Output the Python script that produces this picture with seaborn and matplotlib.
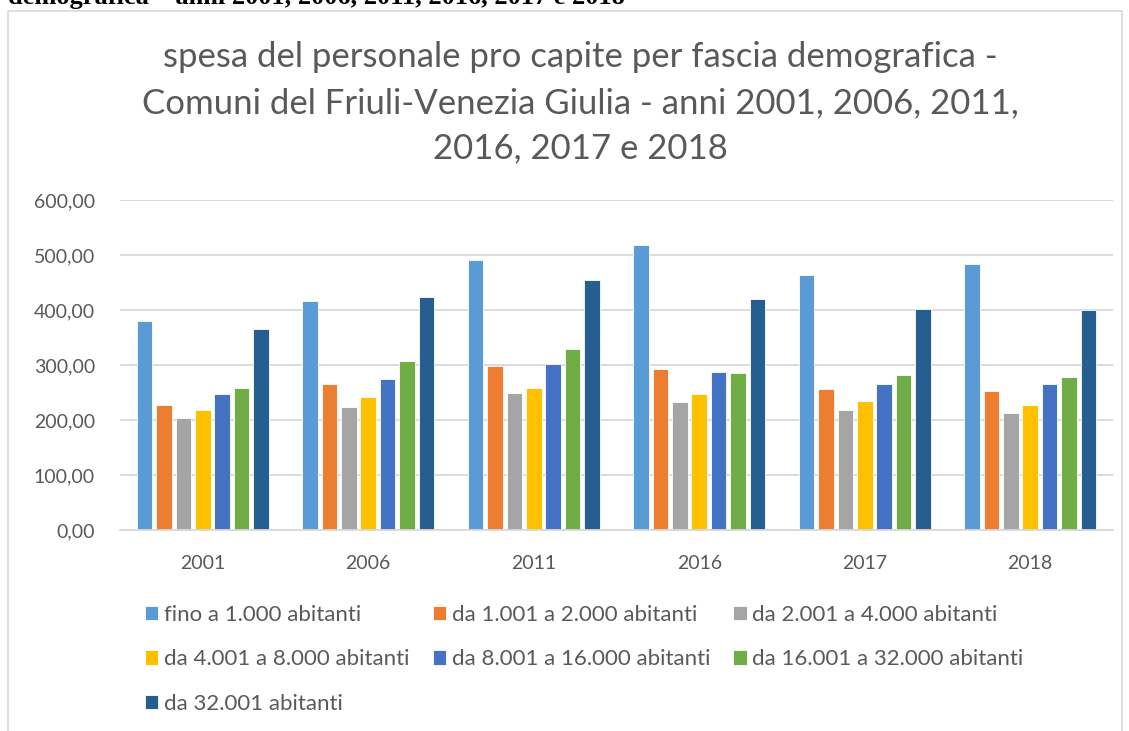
import pandas as pd
import matplotlib.pyplot as plt
import seaborn as sns
from matplotlib.patches import Rectangle
from matplotlib.ticker import FuncFormatter

anni = ["2001", "2006", "2011", "2016", "2017", "2018"]
fasce = [
    "fino a 1.000 abitanti",
    "da 1.001 a 2.000 abitanti",
    "da 2.001 a 4.000 abitanti",
    "da 4.001 a 8.000 abitanti",
    "da 8.001 a 16.000 abitanti",
    "da 16.001 a 32.000 abitanti",
    "da 32.001 abitanti",
]
fino_1000 = [380, 416, 490, 518, 463, 483]
da_1001 = [227, 265, 299, 292, 257, 253]
da_2001 = [203, 223, 249, 233, 219, 213]
da_4001 = [219, 241, 259, 247, 234, 227]
da_8001 = [248, 274, 302, 288, 265, 265]
da_16001 = [259, 307, 329, 286, 281, 279]
da_32001 = [365, 424, 455, 420, 401, 400]
colori = ["#5B9BD5", "#ED7D31", "#A5A5A5", "#FFC000", "#4472C4", "#70AD47", "#255E91"]

serie = [fino_1000, da_1001, da_2001, da_4001, da_8001, da_16001, da_32001]
righe = []
for fascia, valori in zip(fasce, serie):
    for anno, v in zip(anni, valori):
        righe.append({"anno": anno, "fascia": fascia, "spesa": v})
df = pd.DataFrame(righe)

sns.set_style("white")
plt.rcParams["font.family"] = ["Lato", "DejaVu Sans"]
grigio = "#595959"

fig = plt.figure(figsize=(11.29, 7.31), dpi=100)
ax = fig.add_axes([120 / 1129, 1 - 530 / 731, (1113 - 120) / 1129, 330 / 731])

sns.barplot(data=df, x="anno", y="spesa", hue="fascia", hue_order=fasce,
            order=anni, palette=colori, saturation=1, width=0.82, gap=0.2,
            edgecolor="white", linewidth=0.6, ax=ax, legend=True)

ax.set_ylim(0, 600)
ax.set_yticks(range(0, 601, 100))
ax.yaxis.set_major_formatter(FuncFormatter(lambda v, p: f"{v:.2f}".replace(".", ",")))
ax.grid(axis="y", color="#d9d9d9", linewidth=1.3)
ax.set_axisbelow(True)
sns.despine(ax=ax, left=True, top=True, right=True)
ax.spines["bottom"].set_color("#d9d9d9")
ax.spines["bottom"].set_linewidth(1.3)
ax.tick_params(axis="both", length=0, labelsize=14, labelcolor=grigio)
ax.tick_params(axis="x", pad=18)
ax.tick_params(axis="y", pad=18)
ax.set_xlabel("")
ax.set_ylabel("")

handles, labels = ax.get_legend_handles_labels()
ax.get_legend().remove()
ordine = [0, 3, 6, 1, 4, 2, 5]
fig.legend([handles[i] for i in ordine], [labels[i] for i in ordine],
           ncol=3, loc="upper left", bbox_to_anchor=(136 / 1129, 1 - 596 / 731),
           frameon=False, fontsize=16, labelcolor=grigio, handlelength=0.6,
           handleheight=0.6, handletextpad=0.25, columnspacing=1.05,
           labelspacing=1.1, borderaxespad=0)

fig.text(580 / 1129, 1 - 103 / 731,
         "spesa del personale pro capite per fascia demografica -\n"
         "Comuni del Friuli-Venezia Giulia - anni 2001, 2006, 2011,\n"
         "2016, 2017 e 2018",
         ha="center", va="center", fontsize=25, color=grigio,
         linespacing=1.52)

# cornice del grafico e testo tagliato in alto
fig.patches.append(Rectangle((8 / 1129, -0.05), (1122 - 8) / 1129, 1.05 - 11 / 731,
                             transform=fig.transFigure, fill=False,
                             edgecolor="#d9d9d9", linewidth=1.2))
fig.text(8 / 1129, 1 - 4 / 731,
         "demografica \u2013 anni 2001, 2006, 2011, 2016, 2017 e 2018",
         ha="left", va="baseline", fontsize=19, fontweight="bold",
         family="Liberation Serif", color="black")

fig.savefig("out.png", dpi=100)
plt.close(fig)
